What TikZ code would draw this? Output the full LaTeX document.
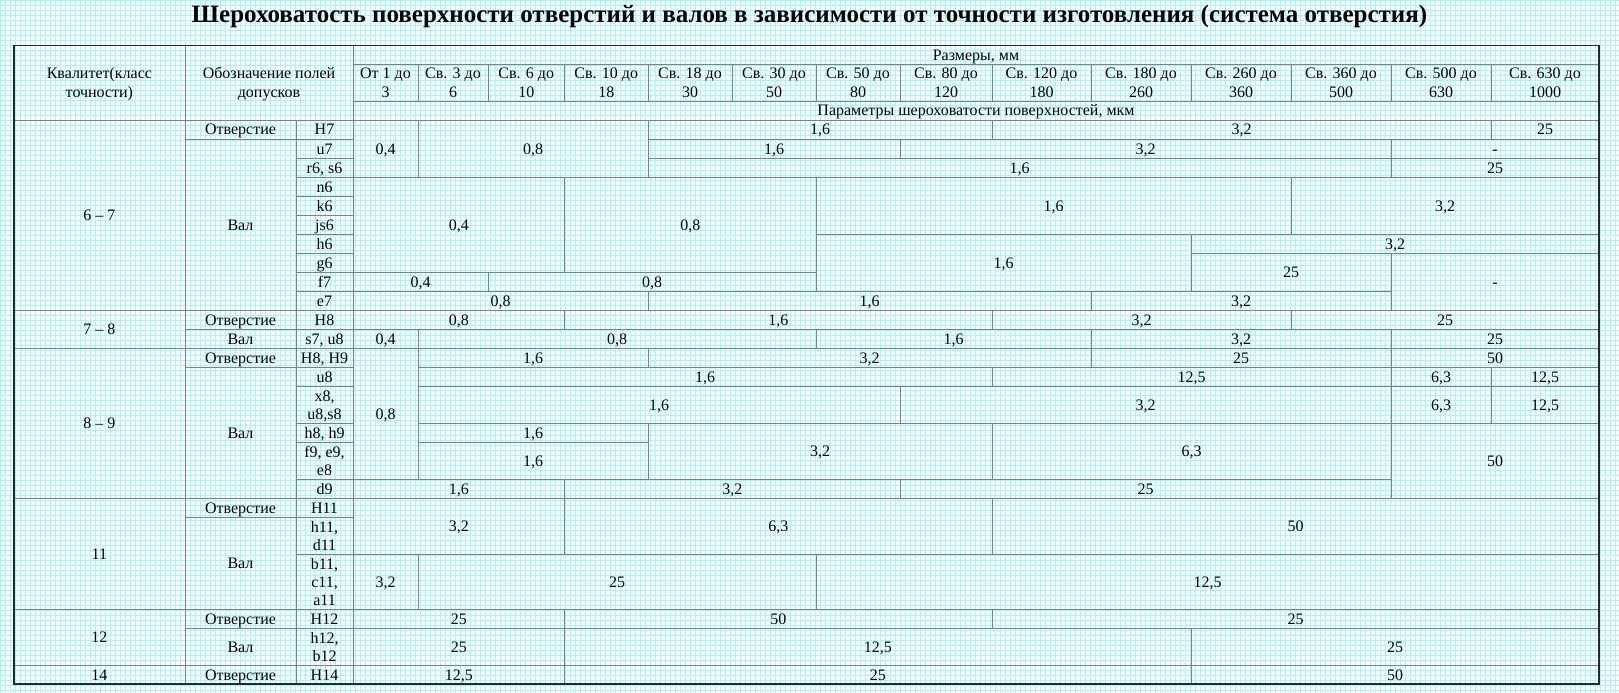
\documentclass[tikz,border=0pt]{standalone}
\usepackage{fontspec}
\setmainfont{Liberation Serif}
\definecolor{gridc}{RGB}{160,248,255}
\definecolor{linec}{RGB}{128,128,128}
\definecolor{outc}{RGB}{40,40,40}
\def\cxL{13.8}\def\cxA{185}\def\cxB{296}
\def\cxa{353}\def\cxb{418}\def\cxc{488}\def\cxd{564.5}\def\cxe{648}\def\cxf{732}\def\cxg{816}\def\cxh{900}\def\cxi{992}\def\cxj{1091}\def\cxk{1191}\def\cxl{1291}\def\cxm{1391}\def\cxn{1491}\def\cxo{1599}
\def\ryT{45.5}\def\ryH{64.5}\def\ryG{101}
\def\rya{120}\def\ryb{139}\def\ryc{158.3}\def\ryd{177.3}\def\rye{196.3}\def\ryf{215.3}\def\ryg{234.3}\def\ryh{253.3}\def\ryi{272.3}\def\ryj{291.3}\def\ryk{310.3}\def\ryl{329.3}\def\rym{348.3}\def\ryn{367.3}\def\ryo{386.7}\def\ryp{423.7}\def\ryq{442.7}\def\ryr{479}\def\rys{498.3}\def\ryt{517.5}\def\ryu{554.5}\def\ryv{609.5}\def\ryw{628.5}\def\ryx{665.3}\def\ryy{684}
\newcommand\tcell[5]{\draw[inl] (#1,#2) rectangle (#3,#4); \node[tx] at ({(#1+#3)/2},{(#2+#4)/2+5.4}) {#5};}
\newcommand\tcellii[6]{\draw[inl] (#1,#2) rectangle (#3,#4); \node[tx] at ({(#1+#3)/2},{(#2+#4)/2-3.8}) {#5}; \node[tx] at ({(#1+#3)/2},{(#2+#4)/2+14.6}) {#6};}
\newcommand\tcelliii[7]{\draw[inl] (#1,#2) rectangle (#3,#4); \node[tx] at ({(#1+#3)/2},{(#2+#4)/2-13}) {#5}; \node[tx] at ({(#1+#3)/2},{(#2+#4)/2+5.4}) {#6}; \node[tx] at ({(#1+#3)/2},{(#2+#4)/2+23.8}) {#7};}
\begin{document}
\begin{tikzpicture}[x=1pt,y=-1pt,
  inl/.style={draw=linec,line width=1pt},
  tx/.style={anchor=base,inner sep=0pt,font=\fontsize{16}{18.4}\selectfont},
  gl/.style={draw=gridc,line width=1pt}]
\useasboundingbox (0,0) rectangle (1619,693);
\fill[white] (0,0) rectangle (1619,693);
\foreach \i in {0,5,...,1615} \draw[gl] (\i+0.5,0) -- (\i+0.5,693);
\foreach \j in {0,5,...,690} \draw[gl] (0,\j+0.5) -- (1619,\j+0.5);
\node[anchor=base,inner sep=0pt,font=\bfseries\fontsize{25}{29}\selectfont] (title) at (809.5,22.5) {Шероховатость поверхности отверстий и валов в зависимости от точности изготовления (система отверстия)};
% header
\tcellii{\cxL}{\ryT}{\cxA}{\rya}{Квалитет(класс}{точности)}
\tcellii{\cxA}{\ryT}{\cxa}{\rya}{Обозначение полей}{допусков}
\tcell{\cxa}{\ryT}{\cxo}{\ryH}{Размеры, мм}
\tcellii{\cxa}{\ryH}{\cxb}{\ryG}{От 1 до}{3}
\tcellii{\cxb}{\ryH}{\cxc}{\ryG}{Св. 3 до}{6}
\tcellii{\cxc}{\ryH}{\cxd}{\ryG}{Св. 6 до}{10}
\tcellii{\cxd}{\ryH}{\cxe}{\ryG}{Св. 10 до}{18}
\tcellii{\cxe}{\ryH}{\cxf}{\ryG}{Св. 18 до}{30}
\tcellii{\cxf}{\ryH}{\cxg}{\ryG}{Св. 30 до}{50}
\tcellii{\cxg}{\ryH}{\cxh}{\ryG}{Св. 50 до}{80}
\tcellii{\cxh}{\ryH}{\cxi}{\ryG}{Св. 80 до}{120}
\tcellii{\cxi}{\ryH}{\cxj}{\ryG}{Св. 120 до}{180}
\tcellii{\cxj}{\ryH}{\cxk}{\ryG}{Св. 180 до}{260}
\tcellii{\cxk}{\ryH}{\cxl}{\ryG}{Св. 260 до}{360}
\tcellii{\cxl}{\ryH}{\cxm}{\ryG}{Св. 360 до}{500}
\tcellii{\cxm}{\ryH}{\cxn}{\ryG}{Св. 500 до}{630}
\tcellii{\cxn}{\ryH}{\cxo}{\ryG}{Св. 630 до}{1000}
\tcell{\cxa}{\ryG}{\cxo}{\rya}{Параметры шероховатости поверхностей, мкм}
% left columns
\tcell{\cxL}{\rya}{\cxA}{\ryk}{6 – 7}
\tcell{\cxA}{\rya}{\cxB}{\ryb}{Отверстие}
\tcell{\cxB}{\rya}{\cxa}{\ryb}{H7}
\tcell{\cxA}{\ryb}{\cxB}{\ryk}{Вал}
\tcell{\cxB}{\ryb}{\cxa}{\ryc}{u7}
\tcell{\cxB}{\ryc}{\cxa}{\ryd}{r6, s6}
\tcell{\cxB}{\ryd}{\cxa}{\rye}{n6}
\tcell{\cxB}{\rye}{\cxa}{\ryf}{k6}
\tcell{\cxB}{\ryf}{\cxa}{\ryg}{js6}
\tcell{\cxB}{\ryg}{\cxa}{\ryh}{h6}
\tcell{\cxB}{\ryh}{\cxa}{\ryi}{g6}
\tcell{\cxB}{\ryi}{\cxa}{\ryj}{f7}
\tcell{\cxB}{\ryj}{\cxa}{\ryk}{e7}
\tcell{\cxL}{\ryk}{\cxA}{\rym}{7 – 8}
\tcell{\cxA}{\ryk}{\cxB}{\ryl}{Отверстие}
\tcell{\cxB}{\ryk}{\cxa}{\ryl}{H8}
\tcell{\cxA}{\ryl}{\cxB}{\rym}{Вал}
\tcell{\cxB}{\ryl}{\cxa}{\rym}{s7, u8}
\tcell{\cxL}{\rym}{\cxA}{\rys}{8 – 9}
\tcell{\cxA}{\rym}{\cxB}{\ryn}{Отверстие}
\tcell{\cxB}{\rym}{\cxa}{\ryn}{H8, H9}
\tcell{\cxA}{\ryn}{\cxB}{\rys}{Вал}
\tcell{\cxB}{\ryn}{\cxa}{\ryo}{u8}
\tcellii{\cxB}{\ryo}{\cxa}{\ryp}{x8,}{u8,s8}
\tcell{\cxB}{\ryp}{\cxa}{\ryq}{h8, h9}
\tcellii{\cxB}{\ryq}{\cxa}{\ryr}{f9, e9,}{e8}
\tcell{\cxB}{\ryr}{\cxa}{\rys}{d9}
\tcell{\cxL}{\rys}{\cxA}{\ryv}{11}
\tcell{\cxA}{\rys}{\cxB}{\ryt}{Отверстие}
\tcell{\cxB}{\rys}{\cxa}{\ryt}{H11}
\tcell{\cxA}{\ryt}{\cxB}{\ryv}{Вал}
\tcellii{\cxB}{\ryt}{\cxa}{\ryu}{h11,}{d11}
\tcelliii{\cxB}{\ryu}{\cxa}{\ryv}{b11,}{c11,}{a11}
\tcell{\cxL}{\ryv}{\cxA}{\ryx}{12}
\tcell{\cxA}{\ryv}{\cxB}{\ryw}{Отверстие}
\tcell{\cxB}{\ryv}{\cxa}{\ryw}{H12}
\tcell{\cxA}{\ryw}{\cxB}{\ryx}{Вал}
\tcellii{\cxB}{\ryw}{\cxa}{\ryx}{h12,}{b12}
\tcell{\cxL}{\ryx}{\cxA}{\ryy}{14}
\tcell{\cxA}{\ryx}{\cxB}{\ryy}{Отверстие}
\tcell{\cxB}{\ryx}{\cxa}{\ryy}{H14}
% rows 1-3
\tcell{\cxa}{\rya}{\cxb}{\ryd}{0,4}
\tcell{\cxb}{\rya}{\cxe}{\ryd}{0,8}
\tcell{\cxe}{\rya}{\cxi}{\ryb}{1,6}
\tcell{\cxi}{\rya}{\cxn}{\ryb}{3,2}
\tcell{\cxn}{\rya}{\cxo}{\ryb}{25}
\tcell{\cxe}{\ryb}{\cxh}{\ryc}{1,6}
\tcell{\cxh}{\ryb}{\cxm}{\ryc}{3,2}
\tcell{\cxm}{\ryb}{\cxo}{\ryc}{-}
\tcell{\cxe}{\ryc}{\cxm}{\ryd}{1,6}
\tcell{\cxm}{\ryc}{\cxo}{\ryd}{25}
% rows 4-10
\tcell{\cxa}{\ryd}{\cxd}{\ryi}{0,4}
\tcell{\cxd}{\ryd}{\cxg}{\ryi}{0,8}
\tcell{\cxg}{\ryd}{\cxl}{\ryg}{1,6}
\tcell{\cxl}{\ryd}{\cxo}{\ryg}{3,2}
\tcell{\cxg}{\ryg}{\cxk}{\ryj}{1,6}
\tcell{\cxk}{\ryg}{\cxo}{\ryh}{3,2}
\tcell{\cxk}{\ryh}{\cxm}{\ryj}{25}
\tcell{\cxm}{\ryh}{\cxo}{\ryk}{-}
\tcell{\cxa}{\ryi}{\cxc}{\ryj}{0,4}
\tcell{\cxc}{\ryi}{\cxg}{\ryj}{0,8}
\tcell{\cxa}{\ryj}{\cxe}{\ryk}{0,8}
\tcell{\cxe}{\ryj}{\cxj}{\ryk}{1,6}
\tcell{\cxj}{\ryj}{\cxm}{\ryk}{3,2}
% row 11
\tcell{\cxa}{\ryk}{\cxd}{\ryl}{0,8}
\tcell{\cxd}{\ryk}{\cxi}{\ryl}{1,6}
\tcell{\cxi}{\ryk}{\cxl}{\ryl}{3,2}
\tcell{\cxl}{\ryk}{\cxo}{\ryl}{25}
% row 12
\tcell{\cxa}{\ryl}{\cxb}{\rym}{0,4}
\tcell{\cxb}{\ryl}{\cxg}{\rym}{0,8}
\tcell{\cxg}{\ryl}{\cxj}{\rym}{1,6}
\tcell{\cxj}{\ryl}{\cxm}{\rym}{3,2}
\tcell{\cxm}{\ryl}{\cxo}{\rym}{25}
% rows 13-18
\tcell{\cxa}{\rym}{\cxb}{\ryr}{0,8}
\tcell{\cxb}{\rym}{\cxe}{\ryn}{1,6}
\tcell{\cxe}{\rym}{\cxj}{\ryn}{3,2}
\tcell{\cxj}{\rym}{\cxm}{\ryn}{25}
\tcell{\cxm}{\rym}{\cxo}{\ryn}{50}
\tcell{\cxb}{\ryn}{\cxi}{\ryo}{1,6}
\tcell{\cxi}{\ryn}{\cxm}{\ryo}{12,5}
\tcell{\cxm}{\ryn}{\cxn}{\ryo}{6,3}
\tcell{\cxn}{\ryn}{\cxo}{\ryo}{12,5}
\tcell{\cxb}{\ryo}{\cxh}{\ryp}{1,6}
\tcell{\cxh}{\ryo}{\cxm}{\ryp}{3,2}
\tcell{\cxm}{\ryo}{\cxn}{\ryp}{6,3}
\tcell{\cxn}{\ryo}{\cxo}{\ryp}{12,5}
\tcell{\cxb}{\ryp}{\cxe}{\ryq}{1,6}
\tcell{\cxb}{\ryq}{\cxe}{\ryr}{1,6}
\tcell{\cxe}{\ryp}{\cxi}{\ryr}{3,2}
\tcell{\cxi}{\ryp}{\cxm}{\ryr}{6,3}
\tcell{\cxm}{\ryp}{\cxo}{\rys}{50}
\tcell{\cxa}{\ryr}{\cxd}{\rys}{1,6}
\tcell{\cxd}{\ryr}{\cxh}{\rys}{3,2}
\tcell{\cxh}{\ryr}{\cxm}{\rys}{25}
% rows 19-21
\tcell{\cxa}{\rys}{\cxd}{\ryu}{3,2}
\tcell{\cxd}{\rys}{\cxi}{\ryu}{6,3}
\tcell{\cxi}{\rys}{\cxo}{\ryu}{50}
\tcell{\cxa}{\ryu}{\cxb}{\ryv}{3,2}
\tcell{\cxb}{\ryu}{\cxg}{\ryv}{25}
\tcell{\cxg}{\ryu}{\cxo}{\ryv}{12,5}
% rows 22-24
\tcell{\cxa}{\ryv}{\cxd}{\ryw}{25}
\tcell{\cxd}{\ryv}{\cxi}{\ryw}{50}
\tcell{\cxi}{\ryv}{\cxo}{\ryw}{25}
\tcell{\cxa}{\ryw}{\cxd}{\ryx}{25}
\tcell{\cxd}{\ryw}{\cxk}{\ryx}{12,5}
\tcell{\cxk}{\ryw}{\cxo}{\ryx}{25}
\tcell{\cxa}{\ryx}{\cxd}{\ryy}{12,5}
\tcell{\cxd}{\ryx}{\cxk}{\ryy}{25}
\tcell{\cxk}{\ryx}{\cxo}{\ryy}{50}
% outer border
\draw[draw=outc,line width=1.5pt] (\cxL,\ryT) rectangle (\cxo,\ryy);
\end{tikzpicture}
\end{document}
